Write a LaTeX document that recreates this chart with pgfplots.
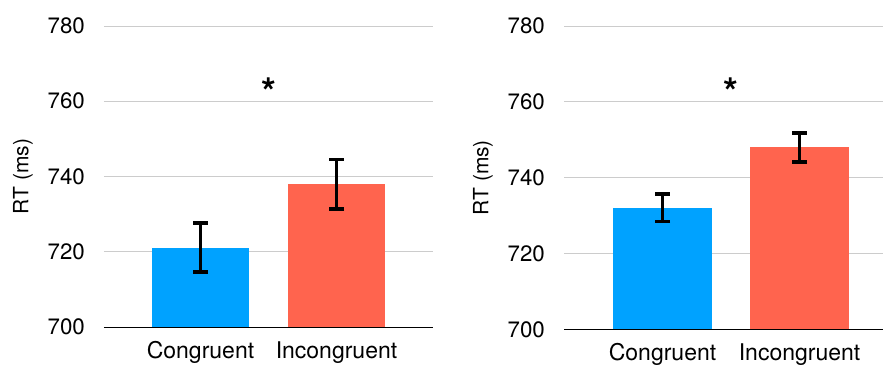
\documentclass[border=0pt]{standalone}
\usepackage{fontspec}
\setmainfont{TeX Gyre Heros}
\usepackage{pgfplots}
\pgfplotsset{compat=1.18}
\definecolor{cblue}{HTML}{00A2FF}
\definecolor{cred}{HTML}{FF644E}
\definecolor{cgrid}{HTML}{CCCCCC}
\pgfplotsset{
  rtpanel/.style={
    scale only axis,
    anchor=south west,
    ymin=700, ymax=780,
    ytick={700,720,740,760,780},
    xtick={0,1},
    xticklabels={Congruent,Incongruent},
    axis x line=bottom,
    axis y line=left,
    y axis line style={draw=none},
    x axis line style={black, line width=1pt, -},
    major tick length=0pt,
    tick style={draw=none},
    ymajorgrids,
    major grid style={cgrid, line width=1pt},
    /pgf/number format/assume math mode=true,
    yticklabel style={font=\fontsize{22.3}{24}\selectfont, inner sep=0pt, anchor=east, xshift=-19pt},
    xticklabel style={font=\fontsize{23}{26}\selectfont, inner sep=0pt, anchor=base, yshift=-31pt},
    ylabel={RT (ms)},
    every axis y label/.style={at={(axis description cs:0,0.5)}, xshift=-81pt, rotate=90, anchor=center, font=\fontsize{21}{24}\selectfont},
    clip=false,
  },
  rtbar/.style={
    ybar, bar shift=0pt, draw=none, fill=#1,
    error bars/.cd, y dir=both, y explicit,
    error bar style={line width=3.3pt, black},
    error mark options={rotate=90, black, line width=3.6pt, mark size=7.5pt},
  },
}
\begin{document}
\begin{tikzpicture}
\path[use as bounding box] (0,0) rectangle (883pt,364pt);
% left panel
\begin{axis}[rtpanel, at={(104pt,37pt)}, width=329pt, height=301pt,
  xmin=-0.7096, xmax=1.7096]
\addplot[bar width=97pt, rtbar=cblue] coordinates {(0,721.1) +- (0,6.5)};
\addplot[bar width=97pt, rtbar=cred] coordinates {(1,737.95) +- (0,6.55)};
\node[anchor=base, inner sep=0pt, font=\fontsize{38}{40}\selectfont\bfseries] at (axis cs:0.5,759) {*};
\end{axis}
% right panel
\begin{axis}[rtpanel, at={(564pt,34.7pt)}, width=319pt, height=303.3pt,
  xmin=-0.719, xmax=1.609]
\addplot[bar width=99pt, rtbar=cblue] coordinates {(0,732.1) +- (0,3.65)};
\addplot[bar width=99pt, rtbar=cred] coordinates {(1,748.0) +- (0,3.8)};
\node[anchor=base, inner sep=0pt, font=\fontsize{38}{40}\selectfont\bfseries] at (axis cs:0.5,758.9) {*};
\end{axis}
\end{tikzpicture}
\end{document}
